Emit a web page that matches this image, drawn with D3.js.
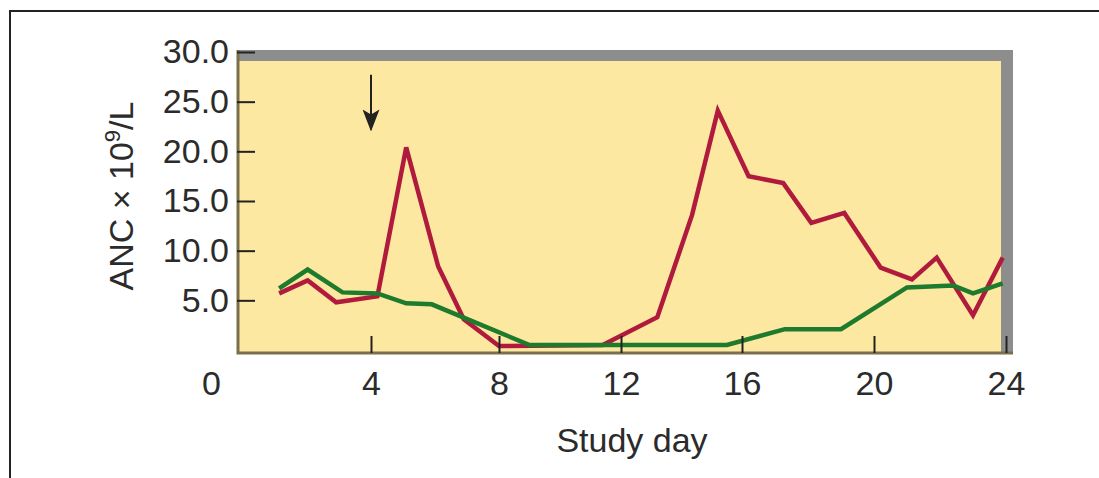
<!DOCTYPE html>
<html>
    <head>
        <meta charset="utf-8">
        <title>ANC by study day</title>
        <style>
            body {
                margin: 0;
                background: #fff;
            }
            text {
                font-family: "Liberation Sans", Arial, Helvetica, sans-serif;
                fill: #2b2b2b;
            }
            .series {
                fill: none;
                stroke-width: 4.5px;
                stroke-linejoin: miter;
            }
        </style>
    </head>

    <body>
        <script src="https://cdn.jsdelivr.net/npm/d3@7"></script>

        <script>

            // day ticks on the x axis, ANC ticks on the y axis
            var dayTicks = [0, 4, 8, 12, 16, 20, 24];
            var ancTicks = [5, 10, 15, 20, 25, 30];

            // red series
            var redDays = [1.1, 2.0, 2.9, 4.2, 5.1, 6.1, 6.9, 8.0, 11.4, 13.2, 14.35, 15.2, 16.2, 17.25, 18.1, 19.1, 20.2, 21.15, 21.9, 23.0, 23.9];
            var redAnc  = [5.7, 7.0, 4.8, 5.4, 20.4, 8.4, 3.1, 0.4, 0.5, 3.3, 13.6, 24.1, 17.5, 16.8, 12.8, 13.8, 8.3, 7.1, 9.3, 3.5, 9.3];

            // green series
            var greenDays = [1.1, 2.0, 3.1, 4.2, 5.1, 5.9, 9.0, 15.5, 17.3, 19.0, 21.0, 22.4, 23.0, 23.9];
            var greenAnc  = [6.2, 8.1, 5.8, 5.7, 4.7, 4.6, 0.5, 0.5, 2.1, 2.1, 6.3, 6.5, 5.7, 6.7];

            // arrow marking the dose day
            var arrowDay = 4;
            var arrowAnc = [27.7, 22.2];

            var width = 1099;
            var height = 478;

            var plotLeft = 237, plotRight = 1013, plotTop = 50, plotBottom = 353;

            // the printed axis is not evenly spaced, so the scale follows the printed ticks
            var x = d3.scaleLinear()
                    .domain([0, 1, 4, 8, 12, 16, 20, 24])
                    .range([211, 276, 371, 499, 621, 742, 874, 1006]);

            var y = d3.scaleLinear()
                    .domain([0, 30])
                    .range([350, 52]);

            var svg = d3.select("body").append("svg")
                    .attr("width", width)
                    .attr("height", height);

            // outer frame (top and left only)
            svg.append("path")
                    .attr("d", "M10," + height + "V11H" + width)
                    .attr("fill", "none")
                    .attr("stroke", "#222")
                    .attr("stroke-width", 2);

            // gray shadow band on top and right
            svg.append("rect")
                    .attr("x", plotLeft).attr("y", plotTop)
                    .attr("width", plotRight - plotLeft).attr("height", plotBottom - plotTop)
                    .attr("fill", "#8d8d8d");

            // yellow plot area
            svg.append("rect")
                    .attr("x", plotLeft).attr("y", 61)
                    .attr("width", 1001 - plotLeft).attr("height", plotBottom - 61)
                    .attr("fill", "#fce8a0");

            // left and bottom borders
            svg.append("path")
                    .attr("d", "M" + (plotLeft + 1) + "," + plotTop + "V" + plotBottom + "H" + plotRight)
                    .attr("fill", "none")
                    .attr("stroke", "#7a6e4c")
                    .attr("stroke-width", 3);

            var line = d3.line()
                    .x(function (d) { return x(d[0]); })
                    .y(function (d) { return y(d[1]); });

            svg.append("path")
                    .datum(d3.zip(redDays, redAnc))
                    .attr("class", "series")
                    .attr("stroke", "#b01a3c")
                    .attr("d", line);

            svg.append("path")
                    .datum(d3.zip(greenDays, greenAnc))
                    .attr("class", "series")
                    .attr("stroke", "#1e7a2c")
                    .attr("d", line);

            // y axis
            var yAxis = svg.append("g")
                    .attr("transform", "translate(" + plotLeft + ",0)")
                    .call(d3.axisLeft(y)
                        .tickValues(ancTicks)
                        .tickSize(-18)
                        .tickPadding(8)
                        .tickFormat(d3.format(".1f")));
            yAxis.select(".domain").remove();
            yAxis.selectAll(".tick line").attr("stroke", "#222").attr("stroke-width", 2);
            yAxis.selectAll(".tick text")
                    .attr("font-size", 34)
                    .attr("fill", null);
            yAxis.attr("font-family", null).attr("font-size", null);

            // x axis
            var xAxis = svg.append("g")
                    .attr("transform", "translate(0," + plotBottom + ")")
                    .call(d3.axisBottom(x)
                        .tickValues(dayTicks)
                        .tickSize(-17)
                        .tickPadding(18));
            xAxis.select(".domain").remove();
            xAxis.selectAll(".tick line").attr("stroke", "#222").attr("stroke-width", 2);
            xAxis.selectAll(".tick").filter(function (d) { return d === 0; }).select("line").remove();
            xAxis.selectAll(".tick text")
                    .attr("font-size", 34)
                    .attr("fill", null);
            xAxis.attr("font-family", null).attr("font-size", null);

            // arrow
            svg.append("defs").append("marker")
                    .attr("id", "head")
                    .attr("viewBox", "0 0 22 17")
                    .attr("refX", 20).attr("refY", 8.5)
                    .attr("markerWidth", 22).attr("markerHeight", 17)
                    .attr("markerUnits", "userSpaceOnUse")
                    .attr("orient", "auto")
                    .append("path")
                    .attr("d", "M0,0L22,8.5L0,17L5,8.5Z")
                    .attr("fill", "#222");

            svg.append("line")
                    .attr("x1", x(arrowDay)).attr("x2", x(arrowDay))
                    .attr("y1", y(arrowAnc[0])).attr("y2", y(arrowAnc[1]))
                    .attr("stroke", "#222")
                    .attr("stroke-width", 2)
                    .attr("marker-end", "url(#head)");

            // axis titles
            svg.append("text")
                    .attr("x", 632).attr("y", 452)
                    .attr("text-anchor", "middle")
                    .attr("font-size", 34)
                    .text("Study day");

            var yTitle = svg.append("text")
                    .attr("transform", "translate(133,196) rotate(-90)")
                    .attr("text-anchor", "middle")
                    .attr("font-size", 34);
            yTitle.append("tspan").text("ANC \u00d7 10");
            yTitle.append("tspan").attr("font-size", 22).attr("dy", -13).text("9");
            yTitle.append("tspan").attr("dy", 13).text("/L");

        </script>
    </body>
</html>
